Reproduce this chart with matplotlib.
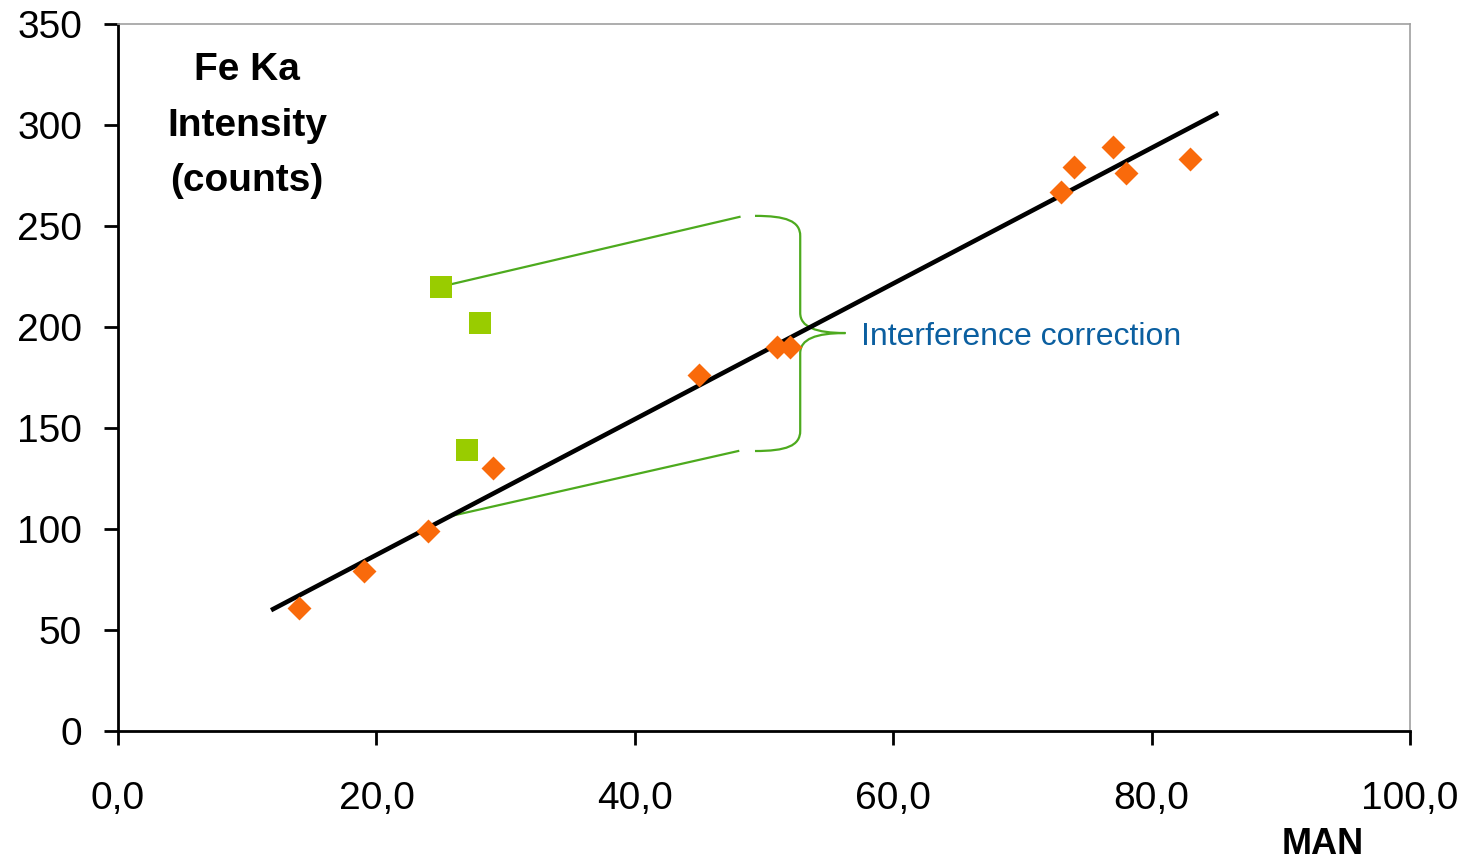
import numpy as np
import matplotlib
matplotlib.use('Agg')
import matplotlib.pyplot as plt
from matplotlib.path import Path
from matplotlib.patches import PathPatch

plt.rcParams['font.family'] = ['Liberation Sans', 'DejaVu Sans']

# measured standards (MAN vs Fe Ka counts)
man = [14, 19, 24, 29, 45, 51, 52, 73, 74, 77, 78, 83]
fe_counts = [61, 79, 99, 130, 176, 190, 190, 267, 279, 289, 276, 283]

# samples that need the interference correction
man_interf = [25, 28, 27]
fe_interf = [220, 202, 139]

x_ticks = [0, 20, 40, 60, 80, 100]
x_tick_labels = ['0,0', '20,0', '40,0', '60,0', '80,0', '100,0']
y_ticks = [0, 50, 100, 150, 200, 250, 300, 350]
y_title = ['Fe Ka', 'Intensity', '(counts)']

orange = '#F96A0B'
lime = '#99CC00'
brace_green = '#4DAA1E'
note_blue = '#0B5FA0'

fig = plt.figure(figsize=(14.72, 8.65), dpi=100)
ax = fig.add_axes([0.0802, 0.1549, 0.8777, 0.8174])

# linear calibration through the standards
slope, icpt = np.polyfit(man, fe_counts, 1)
xf = np.array([12, 85])
ax.plot(xf, slope * xf + icpt, color='black', lw=3.3, zorder=3)

ax.scatter(man, fe_counts, marker='D', s=12.2**2, color=orange, lw=0, zorder=4)
ax.scatter(man_interf, fe_interf, marker='s', s=15.8**2, color=lime, lw=0, zorder=4)

# connector lines towards the brace
ax.plot([man_interf[0], 48.1], [fe_interf[0], 254.5], color=brace_green, lw=1.6, zorder=2)
x_low = 25.7
ax.plot([x_low, 48.0], [slope * x_low + icpt, 138.6], color=brace_green, lw=1.6, zorder=2)

# curly brace
xl, xm, xt = 49.3, 52.8, 56.3
yt, yb, ymid = 255.0, 138.6, 197.0
verts = [
    (xl, yt), (xl + 2.4, yt), (xm, yt - 2.5), (xm, yt - 10),
    (xm, ymid + 10),
    (xm, ymid + 3), (xm + 1.2, ymid), (xt, ymid),
    (xm + 1.2, ymid), (xm, ymid - 3), (xm, ymid - 10),
    (xm, yb + 10),
    (xm, yb + 2.5), (xl + 2.4, yb), (xl, yb),
]
codes = [Path.MOVETO, Path.CURVE4, Path.CURVE4, Path.CURVE4,
         Path.LINETO,
         Path.CURVE4, Path.CURVE4, Path.CURVE4,
         Path.CURVE4, Path.CURVE4, Path.CURVE4,
         Path.LINETO,
         Path.CURVE4, Path.CURVE4, Path.CURVE4]
ax.add_patch(PathPatch(Path(verts, codes), fill=False, edgecolor=brace_green, lw=1.6, zorder=2))

ax.text(57.5, ymid - 2, 'Interference correction', color=note_blue, fontsize=23,
        va='center', ha='left')

# axis title, one line at a time
for line, yy in zip(y_title, [0.935, 0.856, 0.778]):
    ax.text(0.0998, yy, line, transform=ax.transAxes, fontsize=28,
            fontweight='bold', ha='center', va='center')

ax.set_xlim(0, 100)
ax.set_ylim(0, 350)
ax.set_xticks(x_ticks)
ax.set_xticklabels(x_tick_labels)
ax.set_yticks(y_ticks)
ax.tick_params(axis='x', length=10, width=2, direction='out', pad=26, labelsize=28)
ax.tick_params(axis='y', length=10, width=2, direction='out', pad=16, labelsize=28)

for side in ['left', 'bottom']:
    ax.spines[side].set_linewidth(2)
    ax.spines[side].set_color('black')
for side in ['top', 'right']:
    ax.spines[side].set_linewidth(1.2)
    ax.spines[side].set_color('#A0A0A0')

fig.text(1323 / 1472, 1 - 862 / 865, 'MAN', fontsize=26, fontweight='bold',
         ha='center', va='bottom')

fig.savefig('out.png', dpi=100)
